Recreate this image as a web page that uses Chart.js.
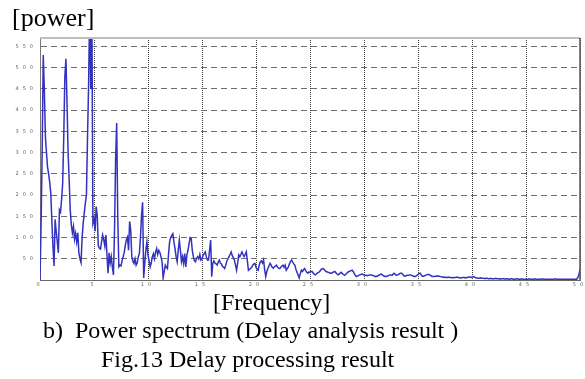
<!DOCTYPE html>
<html>
<head>
<meta charset="utf-8">
<script src="https://cdn.jsdelivr.net/npm/chart.js@4"></script>
<style>
  body { margin: 0; background: #fff; width: 585px; height: 379px; overflow: hidden; position: relative; }
  .txt { position: absolute; font-family: "Liberation Serif", serif; color: #000; white-space: pre; z-index: 2; }
  #wrap { position: absolute; left: 0; top: 30px; width: 585px; height: 270px; z-index: 1; }
</style>
</head>
<body>
<div class="txt" style="left:12px; top:5px; font-size:26px; line-height:26px;">[power]</div>
<div id="wrap"><canvas id="spec"></canvas></div>
<div class="txt" style="left:213px; top:290px; font-size:24px; line-height:24px;">[Frequency]</div>
<div class="txt" style="left:43px; top:318px; font-size:24px; line-height:24px;">b)  Power spectrum (Delay analysis result )</div>
<div class="txt" style="left:101px; top:347px; font-size:24px; line-height:24px;">Fig.13 Delay processing result</div>
<script>
// frequency bins are 0.1 Hz apart, 0 .. 50 Hz
const binHz = 0.1;
const xTicks = [0, 5, 10, 15, 20, 25, 30, 35, 40, 45, 50];
const yTicks = [50, 100, 150, 200, 250, 300, 350, 400, 450, 500, 550];

// power, one row per 1 Hz
const power = [
  0, 130, 300, 530, 450, 337, 300, 265, 250, 230,
  204, 137, 80, 33, 143, 115, 90, 64, 165, 160,
  190, 228, 337, 478, 521, 420, 300, 236, 165, 130,
  111, 126, 96, 110, 90, 111, 64, 50, 41, 100,
  134, 158, 181, 200, 337, 460, 640, 450, 650, 134,
  145, 115, 173, 152, 80, 75, 73, 90, 106, 95,
  80, 106, 60, 16, 64, 40, 55, 30, 12, 117,
  283, 370, 150, 31, 35, 33, 45, 55, 65, 82,
  95, 101, 70, 138, 117, 55, 45, 39, 50, 35,
  40, 55, 62, 100, 152, 183, 5, 40, 70, 90,
  59, 45, 31, 40, 55, 62, 50, 65, 74, 60,
  70, 65, 55, 43, 5, 20, 35, 30, 27, 60,
  90, 100, 105, 109, 90, 74, 55, 43, 70, 94,
  70, 43, 55, 39, 62, 31, 59, 70, 85, 100,
  98, 70, 55, 45, 43, 51, 55, 50, 60, 47,
  50, 58, 62, 66, 55, 47, 47, 70, 94, 8,
  39, 45, 40, 38, 35, 42, 47, 40, 38, 32,
  30, 27, 35, 45, 50, 55, 60, 66, 58, 52,
  47, 35, 23, 40, 59, 55, 60, 66, 60, 55,
  60, 66, 45, 23, 25, 27, 30, 35, 38, 39,
  30, 25, 23, 35, 43, 45, 40, 47, 25, 8,
  20, 27, 33, 39, 35, 30, 28, 31, 33, 35,
  30, 28, 27, 30, 33, 35, 30, 35, 23, 27,
  31, 38, 44, 47, 42, 38, 35, 25, 18, 12,
  5, 15, 23, 20, 24, 27, 22, 18, 16, 19,
  18, 20, 20, 16, 14, 12, 14, 17, 18, 20,
  24, 26, 27, 25, 22, 20, 19, 18, 17, 16,
  16, 18, 19, 20, 17, 14, 12, 14, 16, 18,
  15, 13, 11, 13, 16, 18, 20, 21, 22, 23,
  20, 15, 11, 8, 9, 11, 12, 13, 14, 13,
  12, 11, 11, 10, 11, 12, 12, 12, 11, 10,
  9, 8, 9, 10, 12, 13, 14, 12, 10, 9,
  8, 9, 10, 11, 12, 12, 11, 14, 16, 13,
  11, 12, 13, 15, 16, 16, 13, 10, 9, 10,
  11, 11, 12, 12, 11, 10, 9, 8, 9, 11,
  13, 15, 16, 12, 9, 9, 10, 11, 12, 13,
  13, 12, 10, 9, 8, 8, 9, 9, 10, 9,
  9, 8, 7, 7, 6, 7, 6, 6, 7, 6,
  6, 6, 5, 6, 6, 6, 7, 6, 6, 5,
  5, 6, 6, 6, 5, 6, 6, 7, 7, 6,
  7, 8, 7, 6, 5, 5, 4, 4, 5, 4,
  4, 4, 3, 4, 4, 3, 3, 4, 3, 3,
  3, 3, 4, 3, 3, 3, 2, 3, 3, 3,
  3, 2, 3, 3, 2, 2, 3, 3, 2, 2,
  2, 3, 3, 2, 2, 2, 3, 2, 2, 2,
  2, 2, 2, 3, 2, 2, 2, 2, 3, 2,
  2, 2, 2, 2, 2, 3, 2, 2, 2, 2,
  2, 2, 2, 2, 2, 2, 2, 3, 2, 2,
  2, 2, 2, 2, 2, 2, 2, 2, 2, 2,
  2, 2, 2, 2, 2, 2, 2, 2, 6, 12,
  25
];

// tick labels in the picture are tiny and widely spaced
const spacing = {
  id: "spacing",
  beforeLayout(chart) { chart.ctx.letterSpacing = "4px"; },
  beforeDraw(chart) { chart.ctx.letterSpacing = "4px"; }
};

// frame: light top edge, dark right edge
const frame = {
  id: "frame",
  afterDraw(chart) {
    const { ctx, chartArea: a } = chart;
    ctx.save();
    ctx.strokeStyle = "#bdbdbd";
    ctx.lineWidth = 2;
    ctx.beginPath(); ctx.moveTo(a.left, a.top); ctx.lineTo(a.right, a.top); ctx.stroke();
    ctx.strokeStyle = "#555";
    ctx.lineWidth = 1.5;
    ctx.beginPath(); ctx.moveTo(a.right, a.top); ctx.lineTo(a.right, a.bottom); ctx.stroke();
    ctx.restore();
  }
};

const tickFont = { family: "DejaVu Sans", size: 5 };

new Chart(document.getElementById("spec"), {
  type: "line",
  data: {
    datasets: [{
      data: power.map((p, i) => ({ x: i * binHz, y: p })),
      borderColor: "rgb(50, 50, 190)",
      borderWidth: 1.5,
      pointRadius: 0,
      tension: 0,
      fill: false
    }]
  },
  options: {
    responsive: true,
    maintainAspectRatio: false,
    animation: false,
    layout: { padding: { top: 8, right: 5, left: 0, bottom: 0 } },
    plugins: { legend: { display: false }, tooltip: { enabled: false } },
    scales: {
      x: {
        type: "linear",
        min: 0,
        max: 50,
        afterBuildTicks(scale) { scale.ticks = xTicks.map(v => ({ value: v })); },
        afterFit(scale) {
          scale.height = 20;
          scale.paddingLeft = 0;
          scale.paddingRight = 0;
        },
        ticks: { font: tickFont, color: "#666", padding: 2, maxRotation: 0, autoSkip: false },
        grid: { color: "#3c3c3c", lineWidth: 1, drawTicks: false },
        border: { display: true, color: "#666", width: 1, dash: [1, 1] }
      },
      y: {
        min: 0,
        max: 570,
        afterBuildTicks(scale) { scale.ticks = [0].concat(yTicks).map(v => ({ value: v })); },
        afterFit(scale) {
          scale.width = 40;
          scale.paddingTop = 0;
          scale.paddingBottom = 0;
        },
        ticks: {
          font: tickFont, color: "#666", padding: 3, autoSkip: false,
          callback: v => (v === 0 ? "" : v)
        },
        grid: { color: "#6e6e6e", lineWidth: 1, drawTicks: false },
        border: { display: true, color: "#777", width: 1, dash: [6, 4] }
      }
    }
  },
  plugins: [spacing, frame]
});
</script>
</body>
</html>
